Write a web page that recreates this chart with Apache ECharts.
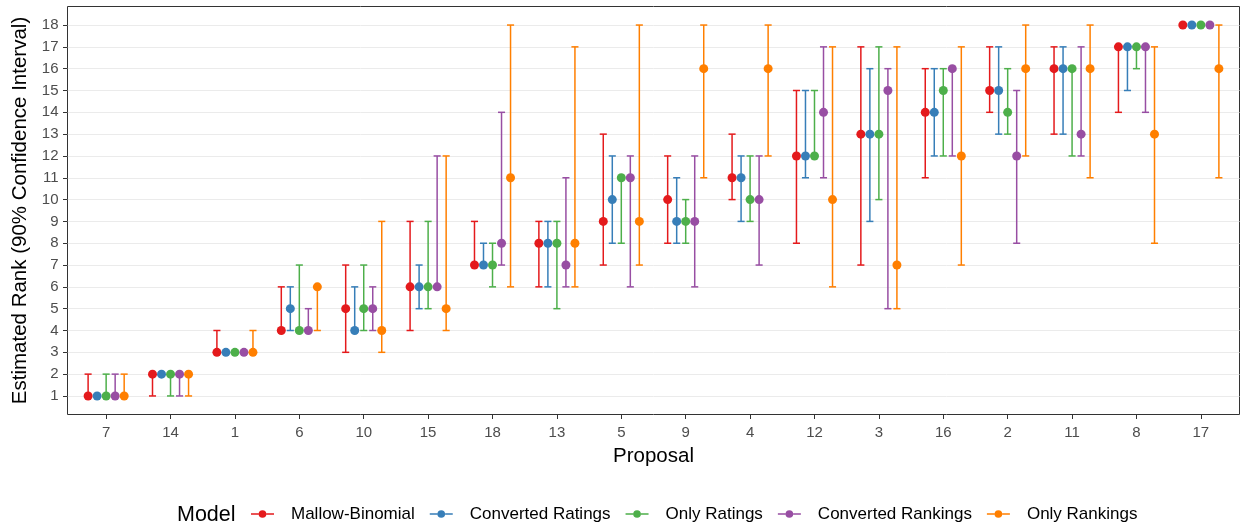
<!DOCTYPE html>
<html>
<head>
<meta charset="utf-8">
<script src="https://cdn.jsdelivr.net/npm/echarts@6/dist/echarts.min.js"></script>
<style>
  html, body { margin: 0; padding: 0; background: #fff; }
  #chart { width: 1241px; height: 527px; }
</style>
</head>
<body>
<div id="chart"></div>
<script>
// proposals in display order (sorted by Mallow-Binomial rank)
const categories = ['7', '14', '1', '6', '10', '15', '18', '13', '5', '9', '4', '12', '3', '16', '2', '11', '8', '17'];
const yTicks = [1, 2, 3, 4, 5, 6, 7, 8, 9, 10, 11, 12, 13, 14, 15, 16, 17, 18];

const models = ['Mallow-Binomial', 'Converted Ratings', 'Only Ratings', 'Converted Rankings', 'Only Rankings'];
const colors = ['#E41A1C', '#377EB8', '#4DAF4A', '#984EA3', '#FF7F00'];

// estimate + 90% interval, one value per proposal
const mallowEst = [1, 2, 3, 4, 5, 6, 7, 8, 9, 10, 11, 12, 13, 14, 15, 16, 17, 18];
const mallowLo  = [1, 1, 3, 4, 3, 4, 7, 6, 7, 8, 10, 8, 7, 11, 14, 13, 14, 18];
const mallowHi  = [2, 2, 4, 6, 7, 9, 9, 9, 13, 12, 13, 15, 17, 16, 17, 17, 17, 18];

const convRatEst = [1, 2, 3, 5, 4, 6, 7, 8, 10, 9, 11, 12, 13, 14, 15, 16, 17, 18];
const convRatLo  = [1, 2, 3, 4, 4, 5, 7, 6, 8, 8, 9, 11, 9, 12, 13, 13, 15, 18];
const convRatHi  = [1, 2, 3, 6, 6, 7, 8, 9, 12, 11, 12, 15, 16, 16, 17, 17, 17, 18];

const onlyRatEst = [1, 2, 3, 4, 5, 6, 7, 8, 11, 9, 10, 12, 13, 15, 14, 16, 17, 18];
const onlyRatLo  = [1, 1, 3, 4, 4, 5, 6, 5, 8, 8, 9, 12, 10, 12, 13, 12, 16, 18];
const onlyRatHi  = [2, 2, 3, 7, 7, 9, 8, 9, 11, 10, 12, 15, 17, 16, 16, 16, 17, 18];

const convRankEst = [1, 2, 3, 4, 5, 6, 8, 7, 11, 9, 10, 14, 15, 16, 12, 13, 17, 18];
const convRankLo  = [1, 1, 3, 4, 4, 6, 7, 6, 6, 6, 7, 11, 5, 12, 8, 12, 14, 18];
const convRankHi  = [2, 2, 3, 5, 6, 12, 14, 11, 12, 12, 12, 17, 16, 16, 15, 17, 17, 18];

const onlyRankEst = [1, 2, 3, 6, 4, 5, 11, 8, 9, 16, 16, 10, 7, 12, 16, 16, 13, 16];
const onlyRankLo  = [1, 1, 3, 4, 3, 4, 6, 6, 7, 11, 12, 6, 5, 7, 12, 11, 8, 11];
const onlyRankHi  = [2, 2, 4, 6, 9, 12, 18, 17, 18, 18, 18, 17, 17, 17, 18, 18, 17, 18];

const estimates = [mallowEst, convRatEst, onlyRatEst, convRankEst, onlyRankEst];
const lows = [mallowLo, convRatLo, onlyRatLo, convRankLo, onlyRankLo];
const highs = [mallowHi, convRatHi, onlyRatHi, convRankHi, onlyRankHi];

// dodge width 0.7 -> 5 groups
const dodge = [-0.28, -0.14, 0, 0.14, 0.28];
const capHalf = 0.055;

const FONT = '"Liberation Sans", Arial, sans-serif';

const chart = echarts.init(document.getElementById('chart'), null, { renderer: 'canvas' });

const errorSeries = models.map((name, m) => ({
  name,
  type: 'custom',
  itemStyle: { color: colors[m] },
  data: categories.map((c, i) => [i + dodge[m], lows[m][i], highs[m][i]]),
  renderItem: (params, api) => {
    const x = api.value(0);
    const lo = api.coord([x, api.value(1)]);
    const hi = api.coord([x, api.value(2)]);
    const l = api.coord([x - capHalf, 0])[0];
    const r = api.coord([x + capHalf, 0])[0];
    const style = { stroke: colors[m], lineWidth: 1.5 };
    return {
      type: 'group',
      children: [
        { type: 'line', shape: { x1: lo[0], y1: lo[1], x2: hi[0], y2: hi[1] }, style },
        { type: 'line', shape: { x1: l, y1: hi[1], x2: r, y2: hi[1] }, style },
        { type: 'line', shape: { x1: l, y1: lo[1], x2: r, y2: lo[1] }, style },
      ],
    };
  },
  silent: true,
}));

const pointSeries = models.map((name, m) => ({
  name,
  type: 'scatter',
  symbol: 'circle',
  symbolSize: 9,
  itemStyle: { color: colors[m], opacity: 1 },
  data: categories.map((c, i) => [i + dodge[m], estimates[m][i]]),
  silent: true,
}));

const keyIcon = 'path://M0,3.8H8V5.2H0Z M16,3.8H24V5.2H16Z M16,4.5A4,4 0 1 1 8,4.5A4,4 0 1 1 16,4.5Z';

const option = {
  animation: false,
  backgroundColor: '#fff',
  title: {
    text: 'Model',
    left: 177,
    top: 504.5,
    padding: 0,
    textStyle: { fontFamily: FONT, fontSize: 21.5, fontWeight: 'normal', color: '#000' },
  },
  legend: {
    left: 251,
    top: 505.5,
    padding: 0,
    itemWidth: 23,
    itemHeight: 8,
    itemGap: 15,
    selectedMode: false,
    data: models.map((name, m) => ({ name, icon: keyIcon, itemStyle: { color: colors[m] } })),
    textStyle: { fontFamily: FONT, fontSize: 17, color: '#000', padding: [0, 0, 0, 12] },
  },
  grid: {
    left: 67.5,
    right: 1.5,
    top: 6.5,
    bottom: 112.5,
    show: true,
    borderColor: '#333',
    borderWidth: 1,
    backgroundColor: '#fff',
  },
  xAxis: {
    type: 'value',
    min: -0.6,
    max: categories.length - 0.4,
    splitNumber: categories.length,
    minInterval: 1,
    maxInterval: 1,
    name: 'Proposal',
    nameLocation: 'middle',
    nameGap: 28,
    nameTextStyle: { fontFamily: FONT, fontSize: 20.5, color: '#000' },
    axisLine: { show: false, onZero: false },
    axisTick: { show: true, length: 4.5, lineStyle: { color: '#333', width: 1 }, customValues: categories.map((c, i) => i) },
    axisLabel: {
      margin: 11,
      fontFamily: FONT,
      fontSize: 15,
      color: '#4d4d4d',
      customValues: categories.map((c, i) => i),
      formatter: (v) => categories[Math.round(v)],
    },
    splitLine: { show: false },
  },
  yAxis: {
    type: 'value',
    min: 0.15,
    max: 18.85,
    splitNumber: 18,
    minInterval: 1,
    maxInterval: 1,
    name: 'Estimated Rank (90% Confidence Interval)',
    nameLocation: 'middle',
    nameGap: 35,
    nameTextStyle: { fontFamily: FONT, fontSize: 20.5, color: '#000' },
    axisLine: { show: false, onZero: false },
    axisTick: { show: true, length: 4.5, lineStyle: { color: '#333', width: 1 }, customValues: yTicks },
    axisLabel: {
      margin: 9,
      fontFamily: FONT,
      fontSize: 15,
      color: '#4d4d4d',
      customValues: yTicks,
    },
    splitLine: { show: true, lineStyle: { color: '#ebebeb', width: 1 } },
  },
  series: [...errorSeries, ...pointSeries],
};

chart.setOption(option);
</script>
</body>
</html>
